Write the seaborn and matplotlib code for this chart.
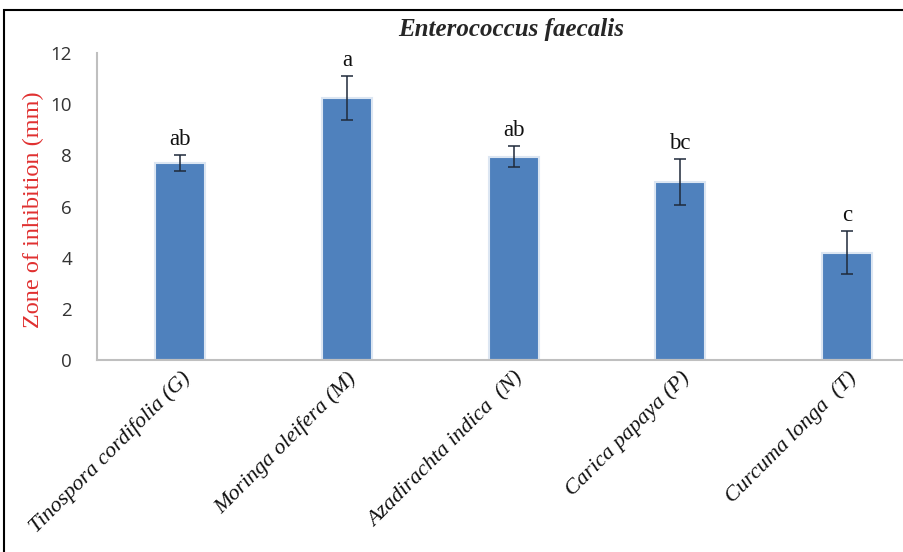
import pandas as pd
import numpy as np
import matplotlib.pyplot as plt
import seaborn as sns
from matplotlib.patches import Rectangle

# Values
plants = ['Tinospora cordifolia (G)', 'Moringa oleifera (M)', 'Azadirachta indica  (N)',
          'Carica papaya (P)', 'Curcuma longa  (T)']
zone_mm = [7.7, 10.25, 7.95, 6.95, 4.2]
zone_err = [0.3, 0.85, 0.4, 0.9, 0.85]
letters = ['ab', 'a', 'ab', 'bc', 'c']

data = pd.DataFrame({'Plant': plants, 'Zone': zone_mm})

sns.set_style('white')
fig = plt.figure(figsize=(9.04, 5.52), dpi=100)
ax = fig.add_axes([0.1073, 0.3478, 0.9215, 0.5562])

sns.barplot(x='Plant', y='Zone', data=data, color='#4F81BD', width=0.3,
            edgecolor='#dce6f2', linewidth=1.5, saturation=1, ax=ax)
ax.errorbar(range(len(plants)), zone_mm, yerr=zone_err, fmt='none',
            ecolor='#1f2a3a', elinewidth=1.1, capsize=4, capthick=1.1)

for i, (v, e, lab) in enumerate(zip(zone_mm, zone_err, letters)):
    ax.text(i, v + e + 0.2, lab, ha='center', va='bottom', fontsize=16.5,
            family='Liberation Serif', color='#111111')

ax.set_ylim(0, 12)
ax.set_yticks(range(0, 13, 2))
ax.set_xlim(-0.5, len(plants) - 0.5)
ax.tick_params(axis='y', length=0, pad=18, labelsize=13.5, labelcolor='#333333')
ax.tick_params(axis='x', length=0, pad=6)
for t in ax.get_yticklabels():
    t.set_family('Open Sans')
ax.set_xticks(range(len(plants)))
ax.set_xticklabels(plants, rotation=45, ha='right', rotation_mode='anchor',
                   fontsize=16, family='Liberation Serif', style='italic', color='#111111')
ax.set_xlabel('')
ax.set_ylabel('Zone of inhibition (mm)', color='#e03030', fontsize=17.5,
              family='Liberation Serif')
ax.yaxis.set_label_coords(-0.064, 0.49)

for side in ['top', 'right']:
    ax.spines[side].set_visible(False)
for side in ['left', 'bottom']:
    ax.spines[side].set_color('#bfbfbf')
    ax.spines[side].set_linewidth(1.5)

fig.text(0.566, 0.946, 'Enterococcus faecalis', ha='center', va='center', fontsize=18,
         family='Liberation Serif', style='italic', weight='bold')

fig.patches.append(Rectangle((4 / 904, -0.01), 1.0, 1 - 10 / 552 + 0.01,
                             transform=fig.transFigure, fill=False,
                             edgecolor='black', linewidth=1.5, figure=fig))

fig.savefig('out.png', dpi=100)
